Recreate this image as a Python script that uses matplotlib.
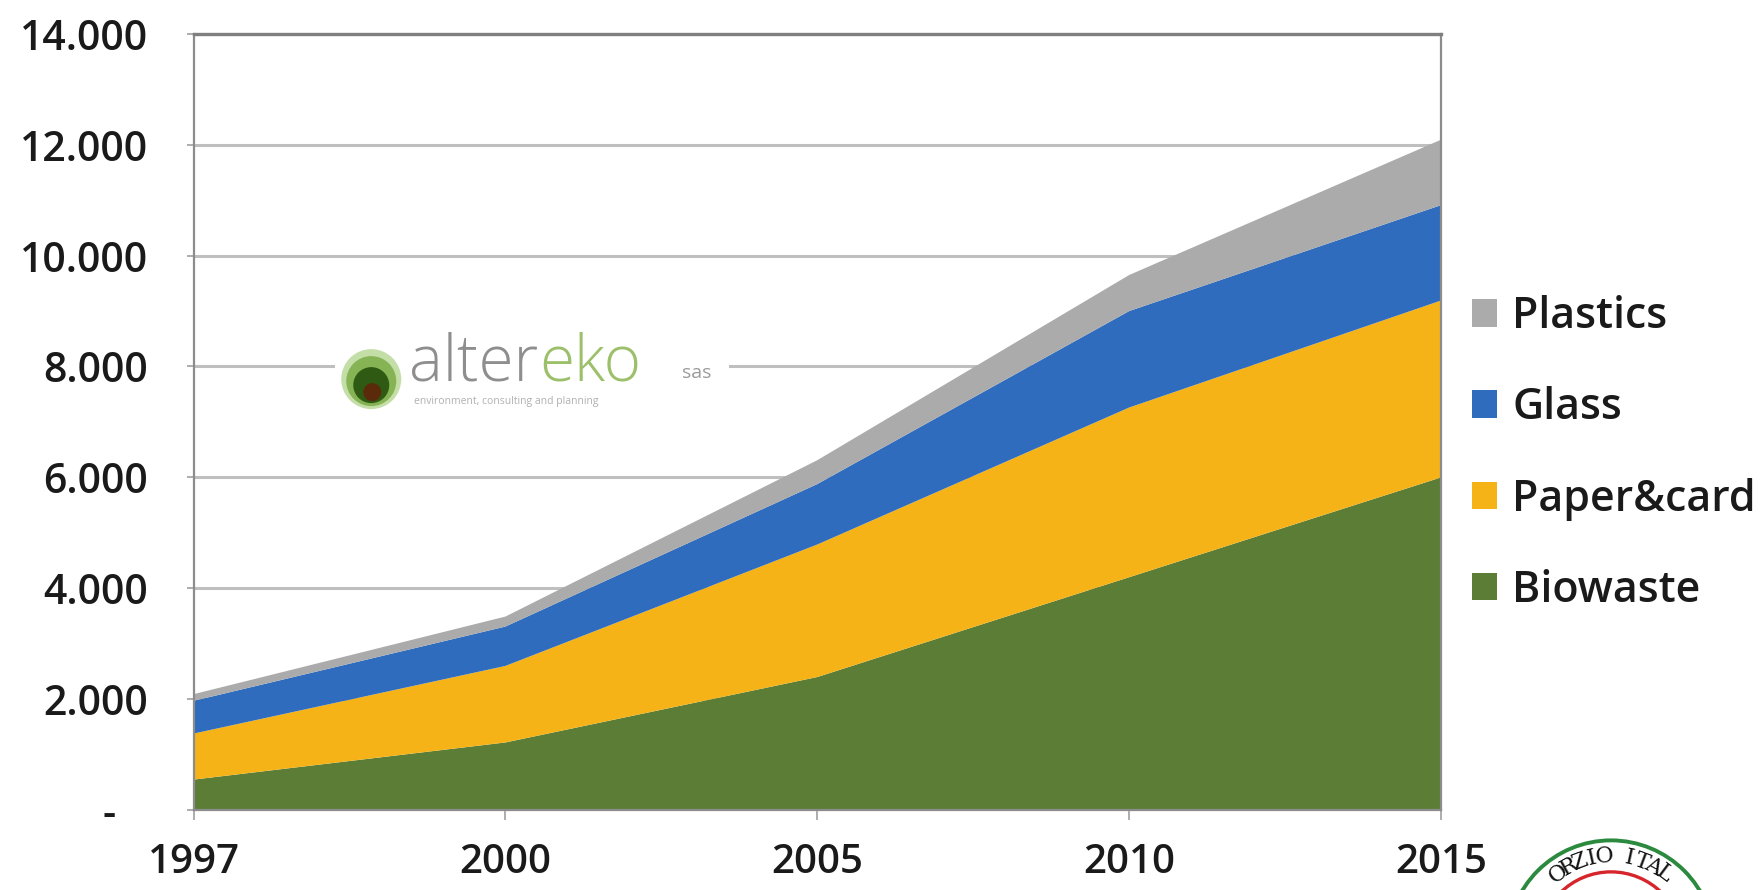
import numpy as np
import matplotlib
matplotlib.use("Agg")
import matplotlib.pyplot as plt
from matplotlib.patches import Circle, Rectangle

# ---- data (thousand tonnes) ----
years = ["1997", "2000", "2005", "2010", "2015"]
biowaste = [550, 1220, 2400, 4200, 6000]
paper_card = [830, 1380, 2390, 3060, 3190]
glass = [590, 710, 1090, 1740, 1720]
plastics = [120, 180, 430, 650, 1180]
series_names = ["Biowaste", "Paper&card", "Glass", "Plastics"]
y_ticks = [0, 2000, 4000, 6000, 8000, 10000, 12000, 14000]
y_tick_labels = ["-   ", "2.000", "4.000", "6.000", "8.000", "10.000", "12.000", "14.000"]

colors = ["#5B7D36", "#F6B318", "#2F6CBD", "#ABABAB"]

plt.rcParams['font.family'] = ['Open Sans', 'DejaVu Sans']

W, H = 1764, 890
fig = plt.figure(figsize=(W / 100, H / 100), dpi=100)
fig.patch.set_facecolor("white")

ax = fig.add_axes([172 / 1568, 1 - 720 / 791, (1281 - 172) / 1568, (720 - 30) / 791])
x = np.arange(len(years))
ax.stackplot(x, biowaste, paper_card, glass, plastics,
             colors=colors, labels=series_names, zorder=2, linewidth=0)

ax.set_xlim(0, len(years) - 1)
ax.set_ylim(0, 14000)
ax.set_yticks(y_ticks)
ax.set_yticklabels(y_tick_labels)
ax.set_xticks(x)
ax.set_xticklabels(years)
ax.grid(axis="y", color="#BFBFBF", linewidth=2.2, zorder=0)
ax.set_axisbelow(True)
for s_ in ["left", "right", "bottom"]:
    ax.spines[s_].set_color("#8C8C8C")
    ax.spines[s_].set_linewidth(1.6)
ax.spines["top"].set_color("#7F7F7F")
ax.spines["top"].set_linewidth(2.4)
ax.tick_params(axis="y", length=5, width=1.2, color="#A0A0A0", pad=28,
               labelsize=29.5, labelcolor="#1A1A1A")
ax.tick_params(axis="x", length=7, width=1.2, color="#A0A0A0", pad=17,
               labelsize=29, labelcolor="#1A1A1A")
for lab in ax.get_xticklabels() + ax.get_yticklabels():
    lab.set_fontweight("semibold")

handles, labels = ax.get_legend_handles_labels()
leg = fig.legend(handles[::-1], labels[::-1], loc="center left",
                 bbox_to_anchor=(1308 / 1568, 1 - 403 / 791), frameon=False,
                 fontsize=31, handlelength=0.6, handleheight=0.6,
                 handletextpad=0.35, labelspacing=1.12, borderpad=0,
                 borderaxespad=0)
for t in leg.get_texts():
    t.set_color("#1A1A1A")
    t.set_fontweight("semibold")

# ---- overlay for logo watermark and stamp (pixel coordinates) ----
ov = fig.add_axes([0, 0, 1, 1], zorder=5)
ov.set_xlim(0, W)
ov.set_ylim(H, 0)
ov.axis("off")
ov.patch.set_alpha(0)

s = 1764 / 1568
# white backing that interrupts the 8.000 gridline
ov.add_patch(Rectangle((298 * s, 305 * s), (648 - 298) * s, 50 * s,
                       facecolor="white", edgecolor="none"))
# logo ball
cx, cy = 330 * s, 337 * s
ov.add_patch(Circle((cx, cy), 30, facecolor="#C4DEA8", edgecolor="none"))
ov.add_patch(Circle((cx, cy + 2), 25, facecolor="#86B454", edgecolor="none"))
ov.add_patch(Circle((cx, cy + 6), 18, facecolor="#2E5A14", edgecolor="none"))
ov.add_patch(Circle((cx + 1, cy + 13), 9, facecolor="#5A2A0A", edgecolor="none"))

fig.canvas.draw()
renderer = fig.canvas.get_renderer()
t1 = ov.text(364 * s, 338 * s, "alter", fontsize=46, color="#8E8E8E",
             fontweight="light", ha="left", va="baseline")
bb = t1.get_window_extent(renderer)
x_end = bb.x1
ov.text(x_end, 338 * s, "eko", fontsize=46, color="#9CC06A",
        fontweight="light", ha="left", va="baseline")
ov.text(606 * s, 336 * s, "sas", fontsize=14, color="#9A9A9A", ha="left",
        va="baseline")
ov.text(368 * s, 357 * s, "environment, consulting and planning", fontsize=7.5,
        color="#B0B0B0", ha="left", va="center")

# partial stamp at the bottom right
scx, scy = 1432 * s, 839 * s
ov.add_patch(Circle((scx, scy), 92 * s, facecolor="white", edgecolor="#2B8A3E",
                    linewidth=2.8))
ov.add_patch(Circle((scx, scy), 64 * s, facecolor="none", edgecolor="#D7262B",
                    linewidth=2.4))
stamp_letters = list("ORZIO ITAL")
angles = np.linspace(127, 53, len(stamp_letters))
for ch, a in zip(stamp_letters, angles):
    r = 78 * s
    px = scx + r * np.cos(np.radians(a))
    py = scy - r * np.sin(np.radians(a))
    ov.text(px, py, ch, fontsize=16, family="DejaVu Serif", color="#111111",
            rotation=a - 90, ha="center", va="center", rotation_mode="anchor")

fig.savefig("out.png", dpi=100)
